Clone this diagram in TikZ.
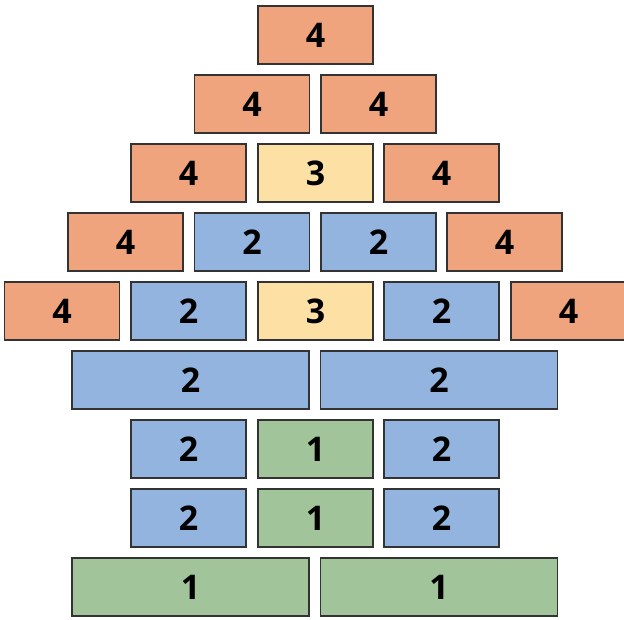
\documentclass[tikz,border=0pt]{standalone}
\usepackage{fontspec}
\setmainfont{Open Sans}
\definecolor{cO}{HTML}{F0A47E}
\definecolor{cY}{HTML}{FCE0A4}
\definecolor{cB}{HTML}{92B4DE}
\definecolor{cG}{HTML}{A2C49A}
\definecolor{cE}{HTML}{333333}
\begin{document}
\begin{tikzpicture}[x=1pt,y=-1pt,
  brick/.style={draw=cE,line width=1.8pt,inner sep=0pt,minimum height=58pt,
    font=\fontsize{34}{34}\selectfont\bfseries},
  sb/.style={brick,minimum width=115pt},
  wb/.style={brick,minimum width=237pt},
  o/.style={fill=cO},yl/.style={fill=cY},bl/.style={fill=cB},gr/.style={fill=cG}]
\useasboundingbox (0,0) rectangle (624,620);
% row 1
\node[sb,o] (r1a) at (315.5,35) {4};
% row 2
\node[sb,o] (r2a) at (252,104) {4};
\node[sb,o] (r2b) at (378.5,104) {4};
% row 3
\node[sb,o] (r3a) at (188.5,173) {4};
\node[sb,yl] (r3b) at (315.5,173) {3};
\node[sb,o] (r3c) at (441.5,173) {4};
% row 4
\node[sb,o] (r4a) at (125.5,242) {4};
\node[sb,bl] (r4b) at (252,242) {2};
\node[sb,bl] (r4c) at (378.5,242) {2};
\node[sb,o] (r4d) at (504.5,242) {4};
% row 5
\node[sb,o] (r5a) at (62,311) {4};
\node[sb,bl] (r5b) at (188.5,311) {2};
\node[sb,yl] (r5c) at (315.5,311) {3};
\node[sb,bl] (r5d) at (441.5,311) {2};
\node[sb,o] (r5e) at (568.5,311) {4};
% row 6
\node[wb,bl] (r6a) at (190.5,380) {2};
\node[wb,bl] (r6b) at (439,380) {2};
% row 7
\node[sb,bl] (r7a) at (188.5,449) {2};
\node[sb,gr] (r7b) at (315.5,449) {1};
\node[sb,bl] (r7c) at (441.5,449) {2};
% row 8
\node[sb,bl] (r8a) at (188.5,518) {2};
\node[sb,gr] (r8b) at (315.5,518) {1};
\node[sb,bl] (r8c) at (441.5,518) {2};
% row 9
\node[wb,gr] (r9a) at (190.5,587) {1};
\node[wb,gr] (r9b) at (439,587) {1};
\end{tikzpicture}
\end{document}
